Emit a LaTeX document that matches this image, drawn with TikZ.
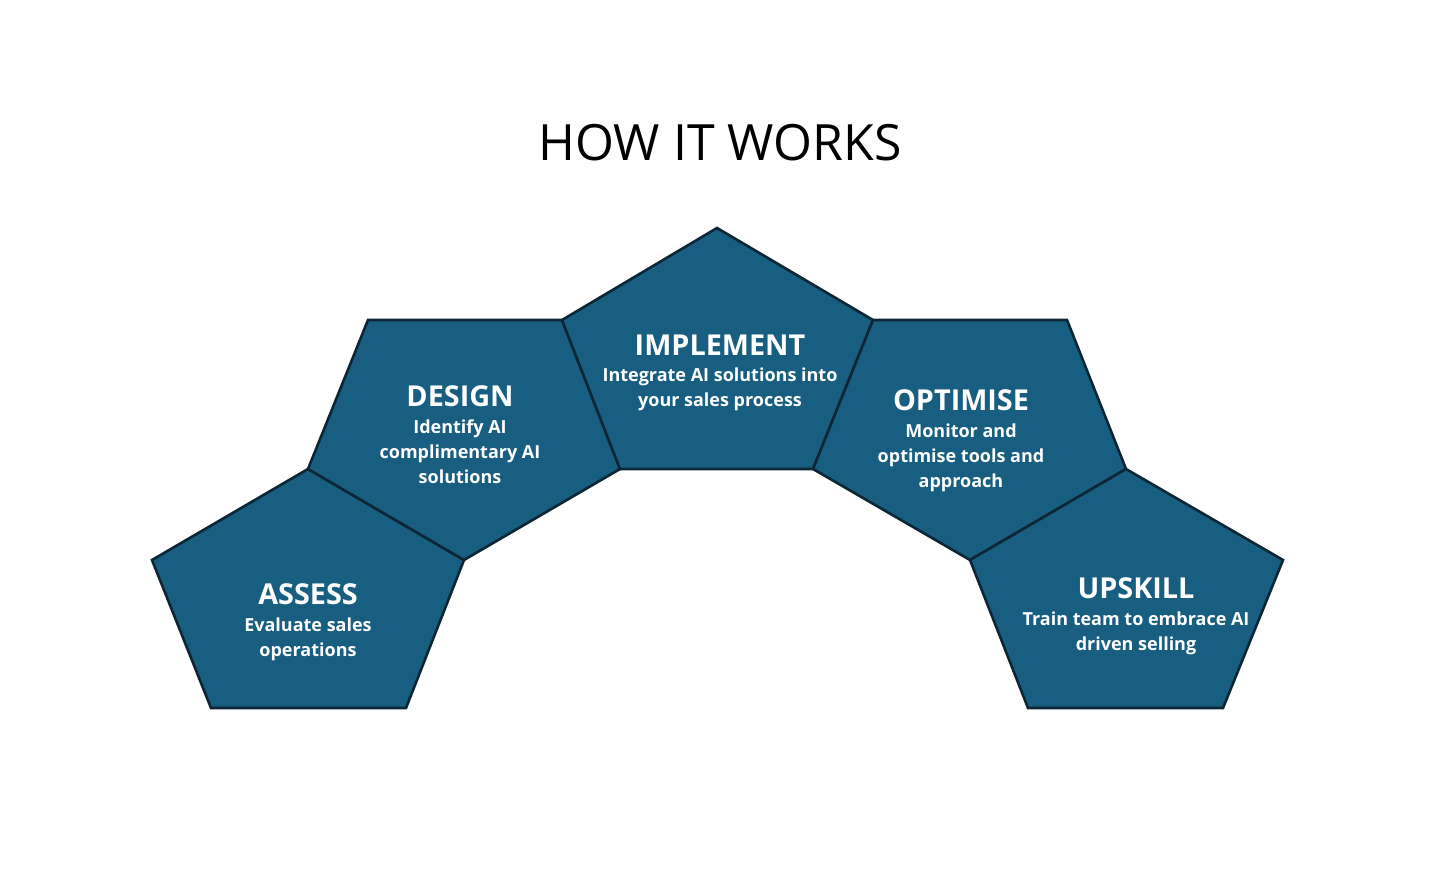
\documentclass[tikz,border=0pt]{standalone}
\usepackage{fontspec}
\setmainfont{Open Sans}
\usepackage{xcolor}
\usepackage{tikz}
\usetikzlibrary{positioning}
\definecolor{petrol}{RGB}{23,94,128}
\definecolor{edgeblue}{RGB}{12,38,54}

\tikzset{
  pentagon/.style={draw=edgeblue, line width=1.3pt, fill=petrol, line join=miter},
  stephead/.style={text=white, inner sep=0pt, font=\bfseries\fontsize{14.4}{16}\selectfont},
  steptext/.style={text=white, inner sep=0pt, align=center, font=\bfseries\fontsize{9}{12.5}\selectfont},
}

\begin{document}
\begin{tikzpicture}[x=0.5pt, y=-0.5pt]
    \useasboundingbox (0,0) rectangle (1454,876);

    % corner points of the arch
    \coordinate (a1) at (308,469);
    \coordinate (a2) at (464,560);
    \coordinate (a3) at (406,708);
    \coordinate (a4) at (211,708);
    \coordinate (a5) at (152,560);
    \coordinate (d1) at (368,320);
    \coordinate (d2) at (562,320);
    \coordinate (d3) at (620,469);
    \coordinate (i1) at (717,228);
    \coordinate (i2) at (873,320);
    \coordinate (i3) at (813,469);
    \coordinate (o1) at (1067,320);
    \coordinate (o2) at (1126,469);
    \coordinate (o3) at (970,560);
    \coordinate (u1) at (1283,560);
    \coordinate (u2) at (1223,708);
    \coordinate (u3) at (1028,708);

    % pentagons
    \draw[pentagon] (a1) -- (a2) -- (a3) -- (a4) -- (a5) -- cycle;
    \draw[pentagon] (a1) -- (d1) -- (d2) -- (d3) -- (a2) -- cycle;
    \draw[pentagon] (i1) -- (i2) -- (i3) -- (d3) -- (d2) -- cycle;
    \draw[pentagon] (i2) -- (o1) -- (o2) -- (o3) -- (i3) -- cycle;
    \draw[pentagon] (o2) -- (u1) -- (u2) -- (u3) -- (o3) -- cycle;

    % title
    \node (title) at (720,143) {\fontsize{25}{28}\selectfont HOW IT WORKS};

    % step labels
    \node[stephead] (assess) at (308,594) {ASSESS};
    \node[steptext, below=6pt of assess] (assesstxt) {Evaluate sales\\operations};

    \node[stephead] (design) at (460,396) {DESIGN};
    \node[steptext, below=6pt of design] (designtxt) {Identify AI\\complimentary AI\\solutions};

    \node[stephead] (implement) at (720,345) {IMPLEMENT};
    \node[steptext, below=6pt of implement] (implementtxt) {Integrate AI solutions into\\your sales process};

    \node[stephead] (optimise) at (961,400) {OPTIMISE};
    \node[steptext, below=6pt of optimise] (optimisetxt) {Monitor and\\optimise tools and\\approach};

    \node[stephead] (upskill) at (1136,588) {UPSKILL};
    \node[steptext, below=6pt of upskill] (upskilltxt) {Train team to embrace AI\\driven selling};
\end{tikzpicture}
\end{document}
